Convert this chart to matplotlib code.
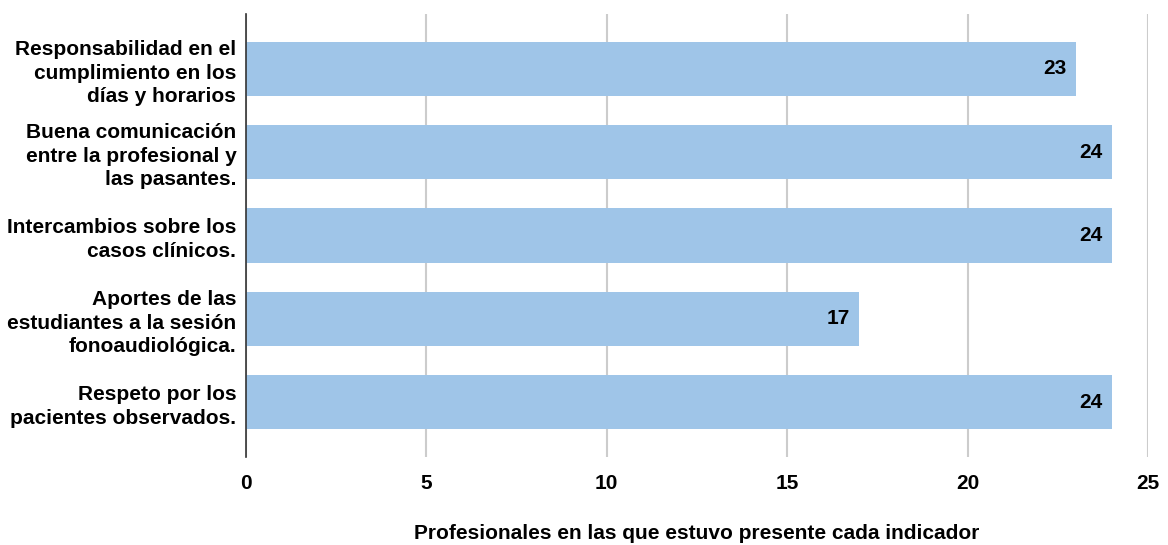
import matplotlib
matplotlib.use("Agg")
import matplotlib.pyplot as plt
import numpy as np

plt.rcParams.update({
    "font.family": ["Liberation Sans", "DejaVu Sans"],
    "font.weight": "bold",
    "font.size": 15,
})

BAR = "#9fc5e8"
GRID = "#cccccc"
TEXT = "#000000"

categories = [
    "Responsabilidad en el\ncumplimiento en los\ndías y horarios",
    "Buena comunicación\nentre la profesional y\nlas pasantes.",
    "Intercambios sobre los\ncasos clínicos.",
    "Aportes de las\nestudiantes a la sesión\nfonoaudiológica.",
    "Respeto por los\npacientes observados.",
]
values = [23, 24, 24, 17, 24]
xticks = [0, 5, 10, 15, 20, 25]
xlabel = "Profesionales en las que estuvo presente cada indicador"

fig = plt.figure(figsize=(11.68, 5.45), dpi=100)
ax = fig.add_axes([0.2106, 0.1615, 0.7723, 0.8128])

y = np.arange(len(categories))
ax.barh(y, values, height=0.65, color=BAR, zorder=2)

# value labels inside the bar ends
for yi, v in zip(y, values):
    ax.text(v - 0.25, yi, str(v), ha="right", va="center",
            fontsize=15, fontweight="bold", color=TEXT, zorder=3)

ax.set_ylim(4.66, -0.66)
ax.set_xlim(0, 25)
ax.set_xticks(xticks)
ax.set_yticks(y)
ax.set_yticklabels(categories, fontsize=15, fontweight="bold",
                   linespacing=1.3)
ax.tick_params(axis="y", length=0, pad=7)
ax.tick_params(axis="x", length=0, pad=12, labelsize=15)

ax.xaxis.grid(True, color=GRID, linewidth=1.5, zorder=0)
ax.set_axisbelow(True)
for s in ["top", "right", "bottom"]:
    ax.spines[s].set_visible(False)
ax.spines["left"].set_color("#333333")
ax.spines["left"].set_linewidth(1.2)
ax.spines["left"].set_zorder(4)

fig.text(0.5966, 0.004, xlabel, ha="center", va="bottom",
         fontsize=15, fontweight="bold", color=TEXT)

fig.savefig("out.png", dpi=100, facecolor="white")
